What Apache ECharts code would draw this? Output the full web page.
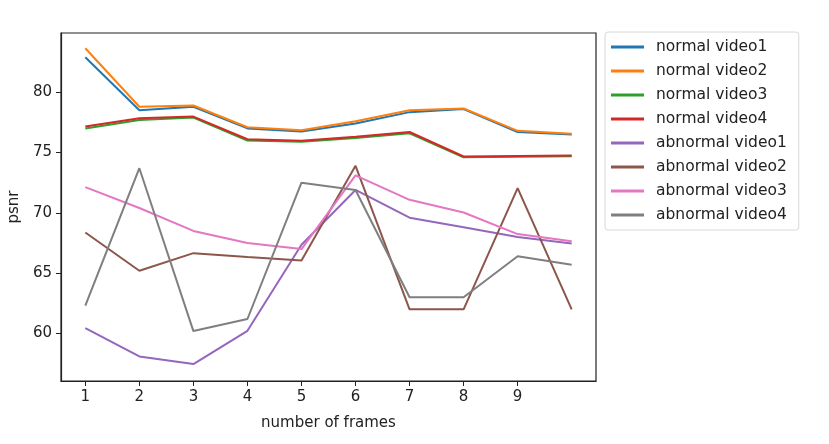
<!DOCTYPE html>
<html lang="en">
<head>
    <meta charset="UTF-8">
    <title>psnr</title>
    <script src="https://cdn.jsdelivr.net/npm/echarts@6/dist/echarts.min.js"></script>
    <style>
        html, body { margin: 0; padding: 0; background: #fff; }
        #main { width: 829px; height: 444px; }
    </style>
</head>
<body>
<div id="main"></div>
<script>
    // frames on the x axis
    var frames = [1, 2, 3, 4, 5, 6, 7, 8, 9, 10];
    var xTicks = [1, 2, 3, 4, 5, 6, 7, 8, 9];
    var yTicks = [60, 65, 70, 75, 80];

    var names = ['normal video1', 'normal video2', 'normal video3', 'normal video4',
        'abnormal video1', 'abnormal video2', 'abnormal video3', 'abnormal video4'];
    var colors = ['#1f77b4', '#ff7f0e', '#2ca02c', '#d62728',
        '#9467bd', '#8c564b', '#e377c2', '#7f7f7f'];

    // psnr values
    var normal1 = [82.9, 78.5, 78.8, 77.0, 76.75, 77.4, 78.35, 78.6, 76.7, 76.5];
    var normal2 = [83.65, 78.8, 78.9, 77.1, 76.85, 77.6, 78.5, 78.65, 76.8, 76.55];
    var normal3 = [77.0, 77.7, 77.9, 76.0, 75.9, 76.2, 76.6, 74.6, 74.65, 74.7];
    var normal4 = [77.15, 77.85, 77.98, 76.1, 75.97, 76.3, 76.7, 74.67, 74.72, 74.75];
    var abnormal1 = [60.45, 58.1, 57.46, 60.22, 67.35, 71.9, 69.6, 68.8, 68.0, 67.45];
    var abnormal2 = [68.37, 65.2, 66.66, 66.33, 66.05, 73.9, 62.0, 62.0, 72.05, 62.0];
    var abnormal3 = [72.13, 70.4, 68.5, 67.5, 67.0, 73.1, 71.08, 70.03, 68.24, 67.65];
    var abnormal4 = [62.3, 73.7, 60.2, 61.2, 72.5, 71.9, 63.0, 63.0, 66.4, 65.7];

    var values = [normal1, normal2, normal3, normal4, abnormal1, abnormal2, abnormal3, abnormal4];

    var font = 'DejaVu Sans';
    var series = [];
    for (var i = 0; i < names.length; i++) {
        var pts = [];
        for (var j = 0; j < frames.length; j++) {
            pts.push([frames[j], values[i][j]]);
        }
        series.push({
            name: names[i],
            type: 'line',
            data: pts,
            symbol: 'none',
            lineStyle: { width: 2, color: colors[i] },
            itemStyle: { color: colors[i] },
            animation: false
        });
    }

    var myChart = echarts.init(document.getElementById('main'));
    var option = {
        backgroundColor: '#fff',
        animation: false,
        grid: {
            left: 61, right: 233, top: 33, bottom: 63,
            outerBoundsMode: 'none',
            containLabel: false,
            show: true, borderColor: '#222', borderWidth: 1.2
        },
        legend: {
            orient: 'vertical',
            left: 605, top: 32,
            data: names,
            icon: 'rect',
            itemWidth: 33, itemHeight: 3,
            itemGap: 8,
            padding: [7, 12, 7, 6],
            borderColor: '#d8d8d8', borderWidth: 1, borderRadius: 3,
            textStyle: { fontFamily: font, fontSize: 15.5, color: '#222', padding: [0, 0, 0, 7] }
        },
        xAxis: {
            type: 'value',
            min: 0.55, max: 10.45,
            name: 'number of frames',
            nameLocation: 'middle',
            nameGap: 35,
            nameTextStyle: { fontFamily: font, fontSize: 15, color: '#222' },
            splitLine: { show: false },
            axisLine: { show: true, onZero: false, lineStyle: { color: '#222', width: 1.2 } },
            axisTick: { show: true, customValues: xTicks, length: 5, lineStyle: { color: '#222' } },
            axisLabel: { customValues: xTicks, margin: 9, fontFamily: font, fontSize: 15, color: '#222' }
        },
        yAxis: {
            type: 'value',
            min: 56.06, max: 84.91,
            name: 'psnr',
            nameLocation: 'middle',
            nameGap: 38,
            nameTextStyle: { fontFamily: font, fontSize: 15, color: '#222' },
            splitLine: { show: false },
            axisLine: { show: true, onZero: false, lineStyle: { color: '#222', width: 1.2 } },
            axisTick: { show: true, customValues: yTicks, length: 5, lineStyle: { color: '#222' } },
            axisLabel: { customValues: yTicks, margin: 9, fontFamily: font, fontSize: 15, color: '#222' }
        },
        series: series
    };
    myChart.setOption(option, true);
</script>
</body>
</html>
